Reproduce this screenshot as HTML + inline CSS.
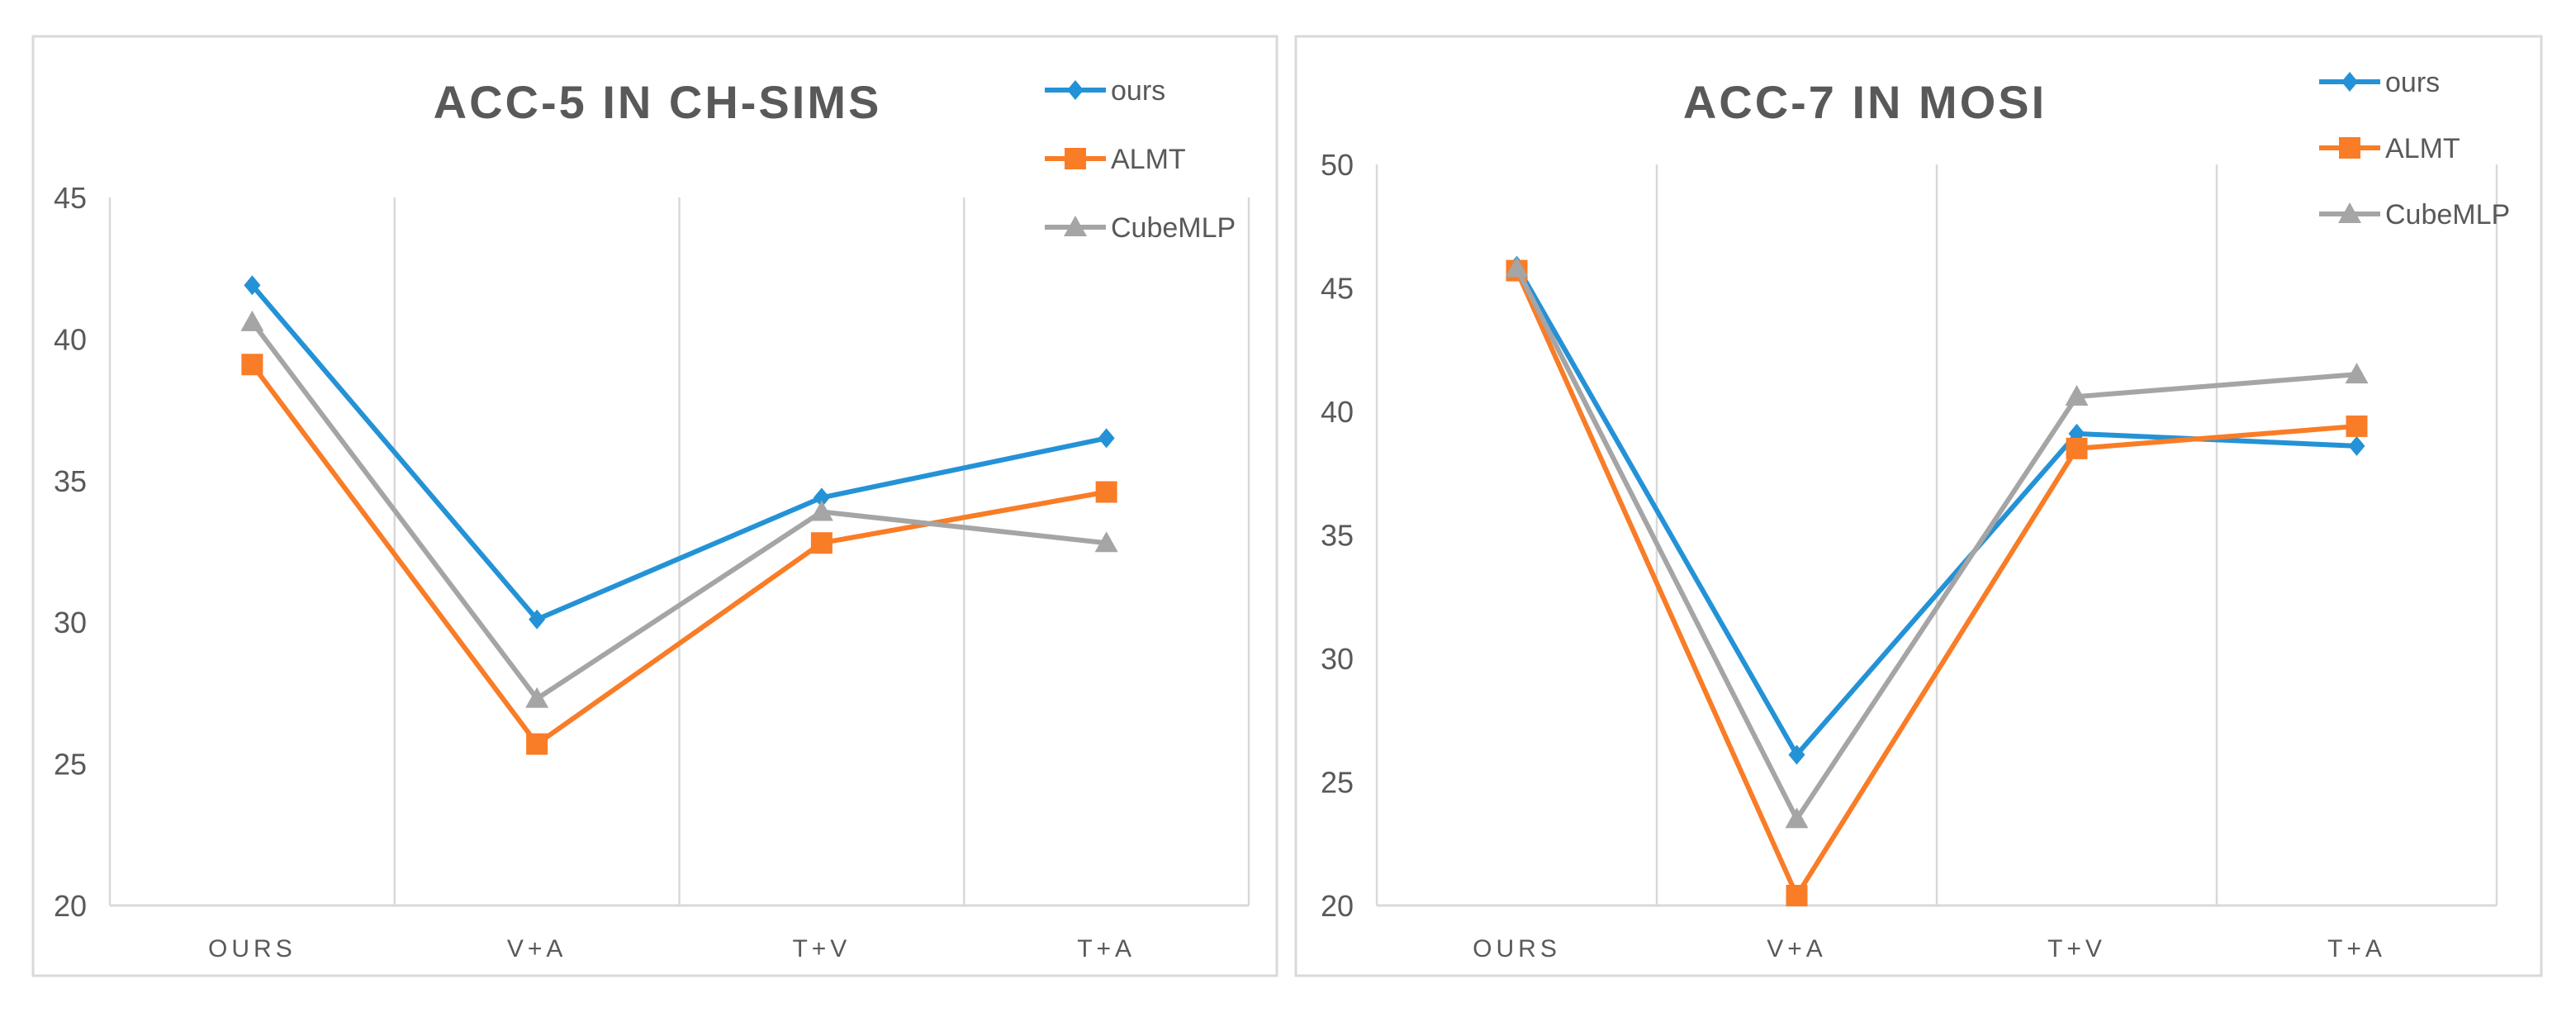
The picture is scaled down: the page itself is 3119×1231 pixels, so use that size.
<!DOCTYPE html>
<html><head><meta charset="utf-8"><style>
html,body{margin:0;padding:0;background:#fff;overflow:hidden;}
svg{display:block;font-family:"Liberation Sans",sans-serif;}
</style></head><body>
<svg id="svg" width="3119" height="1231" viewBox="0 0 3119 1231" xmlns="http://www.w3.org/2000/svg"></svg>
<script>
const categories = ["OURS","V+A","T+V","T+A"];
const seriesNames = ["ours","ALMT","CubeMLP"];
const simsOurs = [41.9, 30.1, 34.4, 36.5];
const simsAlmt = [39.1, 25.7, 32.8, 34.6];
const simsCube = [40.6, 27.3, 33.9, 32.8];
const simsTicks = [20,25,30,35,40,45];
const mosiOurs = [45.9, 26.1, 39.1, 38.6];
const mosiAlmt = [45.7, 20.4, 38.5, 39.4];
const mosiCube = [45.8, 23.5, 40.6, 41.5];
const mosiTicks = [20,25,30,35,40,45,50];

const NS="http://www.w3.org/2000/svg";
const svg=document.getElementById('svg');
const colors=["#2492d6","#f97c27","#a5a5a5"];
function mk(tag,attrs,parent){const e=document.createElementNS(NS,tag);for(const k in attrs)e.setAttribute(k,attrs[k]);(parent||svg).appendChild(e);return e;}
function marker(g,type,x,y,c){
  let m;
  if(type===0){m=mk('polygon',{points:`${x},${y-12} ${x+10},${y} ${x},${y+12} ${x-10},${y}`,fill:c},g);}
  else if(type===1){m=mk('rect',{x:x-13,y:y-13,width:26,height:26,fill:c},g);}
  else {m=mk('polygon',{points:`${x},${y-14} ${x+14},${y+11} ${x-14},${y+11}`,fill:c},g);}
  return m;
}
function chart(o){
  const g=mk('g',{});
  
  
  const fr=mk('rect',{x:o.fx,y:o.fy,width:o.fw,height:o.fh,fill:'#fff',stroke:'#d9d9d9','stroke-width':3},g);
  
  
  const ymin=o.ticks[0],ymax=o.ticks[o.ticks.length-1];
  const ys=v=>o.py1-(v-ymin)/(ymax-ymin)*(o.py1-o.py0);
  const band=(o.px1-o.px0)/categories.length;
  const xs=i=>o.px0+band*(i+0.5);
  for(let i=0;i<=categories.length;i++){
    const x=o.px0+band*i;
    const l=mk('line',{x1:x,y1:o.py0,x2:x,y2:o.py1,stroke:'#d9d9d9','stroke-width':2.5},g);
    
    
  }
  const ax=mk('line',{x1:o.px0,y1:o.py1,x2:o.px1,y2:o.py1,stroke:'#d9d9d9','stroke-width':3},g);
  
  
  o.ticks.forEach(t=>{
    const tx=mk('text',{x:o.px0-28,y:ys(t)+13,'text-anchor':'end','font-size':36,fill:'#595959'},g);
    tx.textContent=t;
    
    
  });
  categories.forEach((c,i)=>{
    const tx=mk('text',{x:xs(i),y:o.py1+62,'text-anchor':'middle','font-size':30,fill:'#595959','letter-spacing':5},g);
    tx.textContent=c;
    
    
  });
  const tt=mk('text',{x:o.tx,y:o.ty,'text-anchor':'middle','font-size':56,'font-weight':'bold',fill:'#595959','letter-spacing':3},g);
  tt.textContent=o.title;
  
  
  o.series.forEach((s,si)=>{
    const pts=s.map((v,i)=>xs(i)+','+ys(v)).join(' ');
    const pl=mk('polyline',{points:pts,fill:'none',stroke:colors[si],'stroke-width':6,'stroke-linejoin':'round'},g);
    
    
    s.forEach((v,i)=>{
      const m=marker(g,si,xs(i),ys(v),colors[si]);
      
      
    });
  });
  seriesNames.forEach((n,si)=>{
    const y=o.ly+si*o.lstep;
    const lg=mk('g',{},g);
    
    
    mk('line',{x1:o.lx,y1:y,x2:o.lx+74,y2:y,stroke:colors[si],'stroke-width':6},lg);
    marker(lg,si,o.lx+37,y,colors[si]);
    const t=mk('text',{x:o.lx+80,y:y+12,'font-size':34,fill:'#595959'},lg);
    t.textContent=n;
  });
}
chart({name:'chart-ch-sims',fx:40,fy:44,fw:1506,fh:1137,px0:133,px1:1512,py0:239,py1:1096,
  ticks:simsTicks,series:[simsOurs,simsAlmt,simsCube],title:'ACC-5 IN CH-SIMS',tx:796,ty:143,lx:1265,ly:109,lstep:83});
chart({name:'chart-mosi',fx:1569,fy:44,fw:1508,fh:1137,px0:1667,px1:3023,py0:199,py1:1096,
  ticks:mosiTicks,series:[mosiOurs,mosiAlmt,mosiCube],title:'ACC-7 IN MOSI',tx:2258,ty:143,lx:2808,ly:99,lstep:80});
</script>
</body></html>
